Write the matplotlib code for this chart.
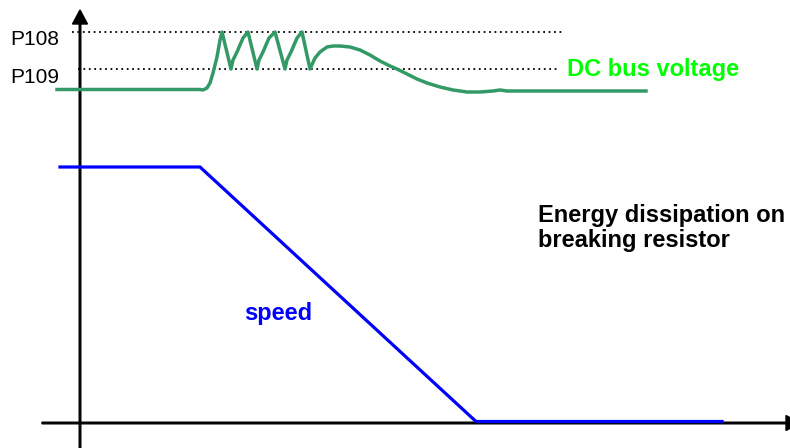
import matplotlib
matplotlib.use("Agg")
from matplotlib import pyplot as plt

plt.rcParams["font.family"] = ["Liberation Sans", "DejaVu Sans"]

# schematic units: time to the right, level upwards (origin where the axes cross)
speed_t = [-20, 120, 396, 642]
speed_v = [256, 256, 1.5, 1.5]

volt_t = [-23, 120, 123, 127, 130, 133, 137, 140, 142,
          151, 153, 157, 160, 163, 168,
          177, 179, 183, 186, 189, 195,
          205, 207, 211, 214, 217, 222,
          230, 235, 240, 247, 253, 260, 270, 280, 290, 300, 310,
          317, 327, 337, 347, 360, 373, 387, 400, 413, 420, 427, 566]
volt_v = [333.5, 333.5, 333, 335, 340, 350, 366, 383, 391,
          354, 363, 371, 378, 385, 391,
          354, 363, 371, 378, 385, 391,
          354, 363, 371, 378, 385, 391,
          354, 365, 371, 376, 377, 377, 376, 373, 368, 362, 357,
          354, 349, 344, 340, 336, 333, 331, 331, 332, 333, 332, 332]

P108 = 391.5
P109 = 354
p108_span = (-8, 482)
p109_span = (-2, 480)

fig = plt.figure(figsize=(7.9, 4.48), dpi=100)
ax = fig.add_axes([0, 0, 1, 1])
ax.set_xlim(-80, 710)
ax.set_ylim(-25, 423)
ax.axis("off")

# axes with arrows
ax.arrow(-38, 0, 758, 0, width=1.6, head_width=15, head_length=14,
         length_includes_head=True, color="black", zorder=1)
ax.arrow(0, -25, 0, 438, width=1.6, head_width=15, head_length=14,
         length_includes_head=True, color="black", zorder=1)

# threshold lines
ax.plot(p108_span, [P108, P108], color="black", lw=1.3, ls=(0, (1, 2)))
ax.plot(p109_span, [P109, P109], color="black", lw=1.3, ls=(0, (1, 2)))
ax.text(-70, P108 - 13.5, "P108", fontsize=15, va="baseline")
ax.text(-70, P109 - 14, "P109", fontsize=15, va="baseline")

ax.plot(speed_t, speed_v, color="#0000ff", lw=2.3, solid_joinstyle="miter", zorder=3)
ax.plot(volt_t, volt_v, color="#339966", lw=2.5, solid_joinstyle="round", zorder=3)

ax.text(487, 347, "DC bus voltage", color="#00ff00", fontsize=17,
        fontweight="bold", va="baseline")
ax.text(164, 103, "speed", color="#0000ff", fontsize=17,
        fontweight="bold", va="baseline")
ax.text(458, 201, "Energy dissipation on", color="black", fontsize=17,
        fontweight="bold", va="baseline")
ax.text(458, 176, "breaking resistor", color="black", fontsize=17,
        fontweight="bold", va="baseline")

fig.savefig("out.png", dpi=100)
